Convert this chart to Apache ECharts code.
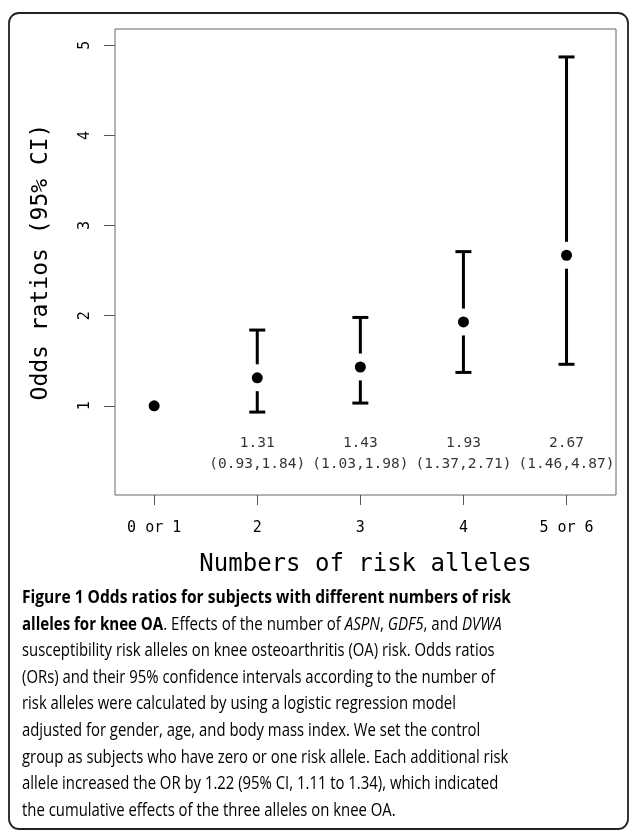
<!DOCTYPE html>
<html>
<head>
<meta charset="utf-8">
<script src="https://cdn.jsdelivr.net/npm/echarts@6/dist/echarts.min.js"></script>
<style>
html,body{margin:0;padding:0;background:#fff;}
#chart{width:629px;height:832px;}
</style>
</head>
<body>
<div id="chart"></div>
<script>
// ---- data ----
var categories = ['0 or 1', '2', '3', '4', '5 or 6'];
var xPositions = [1, 2, 3, 4, 5];
var oddsRatios = [1.00, 1.31, 1.43, 1.93, 2.67];
var ciLower = [null, 0.93, 1.03, 1.37, 1.46];
var ciUpper = [null, 1.84, 1.98, 2.71, 4.87];
var yTicks = [1, 2, 3, 4, 5];
var annotationY = 0.47;

var captionLines = [
  '{b|Figure 1 Odds ratios for subjects with different numbers of risk}',
  '{b|alleles for knee OA}{r|. Effects of the number of }{i|ASPN}{r|, }{i|GDF5}{r|, and }{i|DVWA}',
  '{r|susceptibility risk alleles on knee osteoarthritis (OA) risk. Odds ratios}',
  '{r|(ORs) and their 95% confidence intervals according to the number of}',
  '{r|risk alleles were calculated by using a logistic regression model}',
  '{r|adjusted for gender, age, and body mass index. We set the control}',
  '{r|group as subjects who have zero or one risk allele. Each additional risk}',
  '{r|allele increased the OR by 1.22 (95% CI, 1.11 to 1.34), which indicated}',
  '{r|the cumulative effects of the three alleles on knee OA.}'
];
var captionScale = [0.89, 0.86, 0.85, 0.85, 0.85, 0.85, 0.85, 0.85, 0.85];

// ---- build ----
var mono = '"DejaVu Sans Mono", "Liberation Mono", monospace';
var pointData = xPositions.map(function (x, i) { return [x, oddsRatios[i]]; });
var barData = [];
var annData = [];
xPositions.forEach(function (x, i) {
  if (ciLower[i] != null) {
    barData.push([x, ciLower[i], ciUpper[i]]);
    annData.push({
      value: [x, annotationY],
      label: oddsRatios[i].toFixed(2) + '\n(' + ciLower[i].toFixed(2) + ',' + ciUpper[i].toFixed(2) + ')'
    });
  }
});

var capFont = '"Open Sans", sans-serif';
var capSize = 17.5;
var rich = {
  b: { fontFamily: capFont, fontSize: capSize, fontWeight: 'bold', color: '#111' },
  r: { fontFamily: capFont, fontSize: capSize, color: '#333' },
  i: { fontFamily: capFont, fontSize: capSize, fontStyle: 'italic', color: '#333' }
};
var graphics = [{
  type: 'rect',
  shape: { x: 9, y: 13, width: 619, height: 816, r: 10 },
  style: { fill: 'none', stroke: '#222', lineWidth: 1.8 },
  silent: true
}];
captionLines.forEach(function (line, k) {
  graphics.push({
    type: 'text',
    x: 22,
    y: 598 + k * 26.6,
    scaleX: captionScale[k],
    style: { text: line, rich: rich, verticalAlign: 'middle', align: 'left' },
    silent: true
  });
});

var chart = echarts.init(document.getElementById('chart'), null, { renderer: 'canvas' });
chart.setOption({
  animation: false,
  backgroundColor: '#fff',
  grid: { left: 115, right: 13, top: 29, bottom: 337, show: true, borderColor: '#666', borderWidth: 1, backgroundColor: 'transparent' },
  xAxis: {
    type: 'value', min: 0.62, max: 5.48,
    splitLine: { show: false },
    axisLine: { show: false },
    axisTick: { show: true, length: 10, lineStyle: { color: '#555' }, customValues: xPositions },
    axisLabel: {
      customValues: xPositions, margin: 26, color: '#000', fontFamily: mono, fontSize: 15,
      formatter: function (v) { var idx = xPositions.indexOf(Math.round(v)); return idx >= 0 ? categories[idx] : ''; }
    },
    name: 'Numbers of risk alleles', nameLocation: 'middle', nameGap: 58,
    nameTextStyle: { fontFamily: mono, fontSize: 24, color: '#000' }
  },
  yAxis: {
    type: 'value', min: 0.01, max: 5.18,
    splitLine: { show: false },
    axisLine: { show: false },
    axisTick: { show: true, length: 11, lineStyle: { color: '#555' }, customValues: yTicks },
    axisLabel: { customValues: yTicks, rotate: 90, margin: 22, color: '#000', fontFamily: mono, fontSize: 15 },
    name: 'Odds ratios (95% CI)', nameLocation: 'middle', nameGap: 62,
    nameTextStyle: { fontFamily: mono, fontSize: 23, color: '#000' }
  },
  graphic: graphics,
  series: [
    {
      type: 'custom', z: 2,
      data: barData,
      renderItem: function (params, api) {
        var x = api.value(0);
        var lo = api.coord([x, api.value(1)]);
        var hi = api.coord([x, api.value(2)]);
        var cw = 8;
        var st = { stroke: '#000', lineWidth: 3 };
        return {
          type: 'group',
          children: [
            { type: 'line', shape: { x1: lo[0], y1: lo[1], x2: hi[0], y2: hi[1] }, style: st },
            { type: 'line', shape: { x1: lo[0] - cw, y1: lo[1], x2: lo[0] + cw, y2: lo[1] }, style: st },
            { type: 'line', shape: { x1: hi[0] - cw, y1: hi[1], x2: hi[0] + cw, y2: hi[1] }, style: st }
          ]
        };
      }
    },
    {
      type: 'scatter', z: 3, data: pointData, symbol: 'circle', symbolSize: 27,
      itemStyle: { color: '#fff', opacity: 1 }, silent: true
    },
    {
      type: 'scatter', z: 4, data: pointData, symbol: 'circle', symbolSize: 11,
      itemStyle: { color: '#000', opacity: 1 }
    },
    {
      type: 'scatter', z: 5, symbolSize: 1, itemStyle: { color: 'transparent' },
      data: annData.map(function (d) { return d.value; }),
      label: {
        show: true, position: 'inside', color: '#000', fontFamily: mono, fontSize: 14.5, lineHeight: 21, align: 'center',
        formatter: function (p) { return annData[p.dataIndex].label; }
      }
    }
  ]
});
</script>
</body>
</html>
